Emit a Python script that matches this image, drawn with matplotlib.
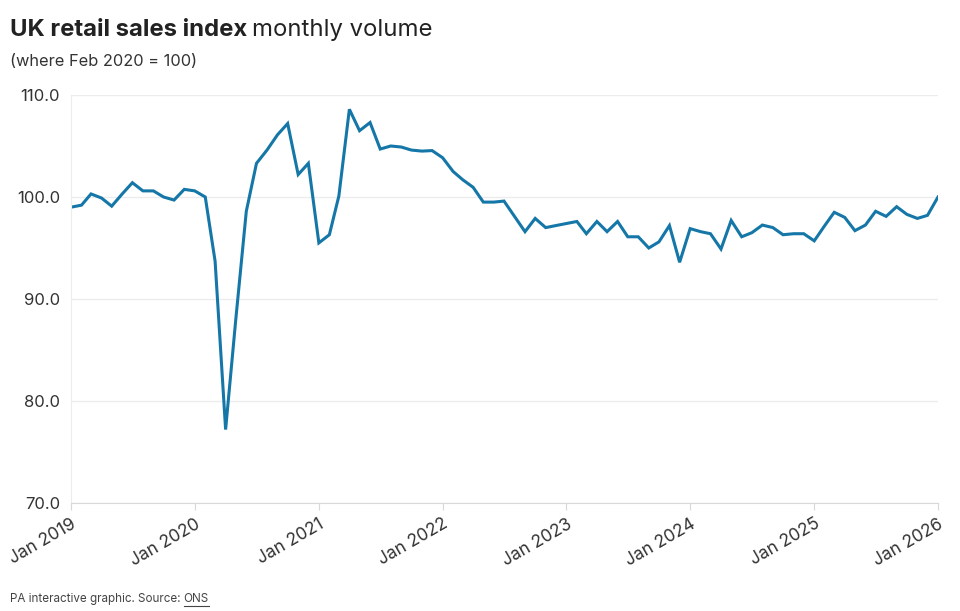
import matplotlib
matplotlib.use("Agg")
import matplotlib.pyplot as plt
import matplotlib.dates as mdates
import pandas as pd

# monthly index values, Jan 2019 .. Jan 2026 (Feb 2020 = 100)
v2019 = [99.0, 99.2, 100.3, 99.9, 99.1, 100.3, 101.4, 100.6, 100.6, 100.0, 99.7, 100.75]
v2020 = [100.6, 100.0, 93.7, 77.2, 88.0, 98.6, 103.3, 104.6, 106.1, 107.2, 102.2, 103.3]
v2021 = [95.5, 96.3, 100.1, 108.6, 106.5, 107.3, 104.7, 105.0, 104.9, 104.6, 104.5, 104.55]
v2022 = [103.85, 102.5, 101.7, 100.95, 99.5, 99.5, 99.6, 98.1, 96.6, 97.9, 97.0, 97.2]
v2023 = [97.4, 97.6, 96.4, 97.6, 96.6, 97.6, 96.1, 96.1, 95.0, 95.6, 97.2, 93.6]
v2024 = [96.9, 96.6, 96.4, 94.9, 97.7, 96.1, 96.5, 97.25, 97.0, 96.3, 96.4, 96.4]
v2025 = [95.7, 97.2, 98.5, 98.0, 96.7, 97.25, 98.6, 98.1, 99.05, 98.3, 97.9, 98.2]
v2026 = [100.0]

values = v2019 + v2020 + v2021 + v2022 + v2023 + v2024 + v2025 + v2026
months = pd.date_range("2019-01-01", periods=len(values), freq="MS")
yticks = [70, 80, 90, 100, 110]

plt.rcParams["font.family"] = ["Inter", "DejaVu Sans"]
txt = "#333333"
grid = "#ececec"

fig = plt.figure(figsize=(9.6, 6.11), dpi=100)
ax = fig.add_axes([71 / 960, 1 - 503 / 611, (938 - 71) / 960, (503 - 95) / 611])

ax.plot(months, values, color="#1577a7", lw=2.2, solid_joinstyle="miter")

ax.set_ylim(70, 110)
ax.set_xlim(months[0], months[-1])
ax.set_yticks(yticks)
ax.set_yticklabels([f"{t:.1f}" for t in yticks])
ax.yaxis.grid(True, color=grid, lw=1)
ax.set_axisbelow(True)

ax.xaxis.set_major_locator(mdates.YearLocator())
ax.xaxis.set_major_formatter(mdates.DateFormatter("%b %Y"))
for lab in ax.get_xticklabels():
    lab.set_rotation(30)
    lab.set_ha("right")
    lab.set_rotation_mode("anchor")

for s in ["top", "right"]:
    ax.spines[s].set_visible(False)
ax.spines["left"].set_color(grid)
ax.spines["bottom"].set_color("#d8d8d8")
ax.tick_params(axis="y", length=0, pad=8, labelsize=12, labelcolor=txt)
ax.tick_params(axis="x", length=5, color="#d8d8d8", pad=4, labelsize=12.5, labelcolor=txt)

# title: bold part then regular part
fig.canvas.draw()
r = fig.canvas.get_renderer()
t1 = fig.text(10 / 960, 1 - 36 / 611, "UK retail sales index", fontsize=17.2,
              fontweight="bold", color="#222222")
bb = t1.get_window_extent(r)
fig.text((bb.x1 + 5) / 960, 1 - 36 / 611, "monthly volume", fontsize=17.2, color="#222222")
fig.text(10 / 960, 1 - 66 / 611, "(where Feb 2020 = 100)", fontsize=11.8, color=txt)

f1 = fig.text(10 / 960, 1 - 602 / 611, "PA interactive graphic. Source: ", fontsize=8.4, color="#444444")
bb = f1.get_window_extent(r)
f2 = fig.text(bb.x1 / 960, 1 - 602 / 611, "ONS", fontsize=8.4, color="#444444")
bb2 = f2.get_window_extent(r)
fig.add_artist(plt.Line2D([bb2.x0 / 960, bb2.x1 / 960], [(bb2.y0 - 1) / 611] * 2,
                          color="#444444", lw=0.8))

fig.savefig("out.png", dpi=100)
